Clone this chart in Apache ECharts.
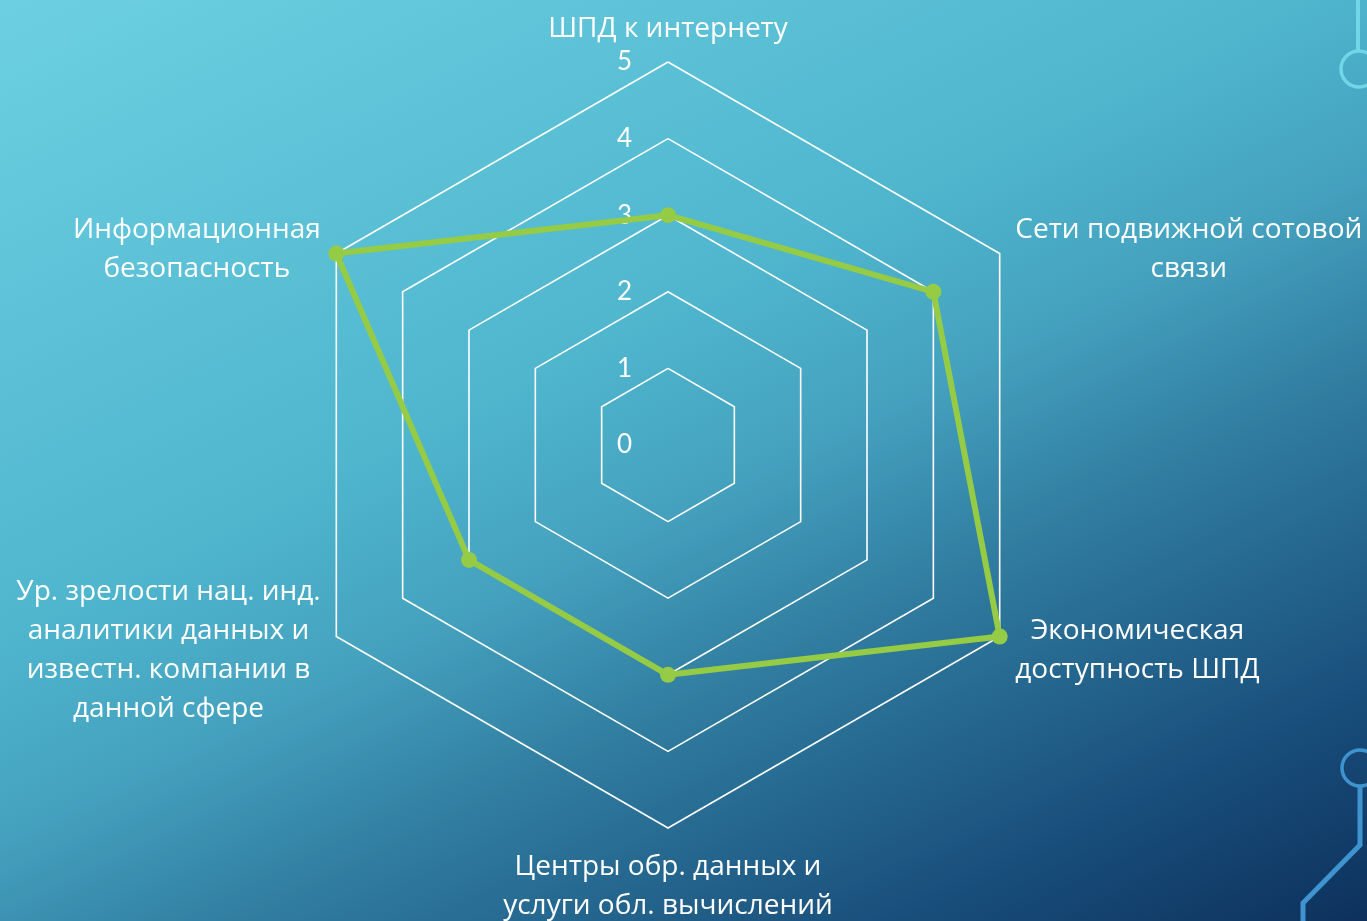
<!DOCTYPE html>
<html>
<head>
<meta charset="utf-8">
<script src="https://cdn.jsdelivr.net/npm/echarts@6/dist/echarts.min.js"></script>
<style>
  html, body { margin: 0; padding: 0; overflow: hidden; background: #0b2a55; }
  #chart { width: 1367px; height: 921px; }
</style>
</head>
<body>
<div id="chart"></div>
<script>
// Indicators in drawing order (counter-clockwise starting from the top)
const indicatorNames = [
  'ШПД к интернету',
  'Информационная\nбезопасность',
  'Ур. зрелости нац. инд.\nаналитики данных и\nизвестн. компании в\nданной сфере',
  'Центры обр. данных и\nуслуги обл. вычислений',
  'Экономическая\nдоступность ШПД',
  'Сети подвижной сотовой\nсвязи'
];
const scores = [3, 5, 3, 3, 5, 4];
const scaleMax = 5;
const tickLabels = ['0', '1', '2', '3', '4', '5'];

const chart = echarts.init(document.getElementById('chart'));

const nameFont = '"Open Sans", "Noto Sans", sans-serif';

// name distance from the outer ring, per axis (top and bottom sit a bit differently)
const nameGaps = [13, 18, 18, 10, 18, 18];

const option = {
  animation: false,
  graphic: [
    {
      type: 'rect', z: -10, silent: true,
      shape: { x: 0, y: 0, width: 1367, height: 921 },
      style: {
        fill: {
          type: 'linear', global: true, x: 0, y: 0, x2: 657, y2: 1345,
          colorStops: [
            { offset: 0, color: '#6dd0e2' },
            { offset: 0.38, color: '#4fb6ce' },
            { offset: 0.5, color: '#45a2bf' },
            { offset: 0.62, color: '#317ea1' },
            { offset: 0.82, color: '#184d7a' },
            { offset: 1, color: '#0a2752' }
          ]
        }
      }
    },
    // circuit ornament, top right
    {
      type: 'polyline', silent: true,
      shape: { points: [[1358, 0], [1358, 50]] },
      style: { stroke: '#72d6e8', lineWidth: 4, fill: null }
    },
    {
      type: 'circle', silent: true,
      shape: { cx: 1359, cy: 69, r: 18 },
      style: { stroke: '#72d6e8', lineWidth: 3.5, fill: null }
    },
    // circuit ornament, bottom right
    {
      type: 'circle', silent: true,
      shape: { cx: 1360, cy: 768, r: 18 },
      style: { stroke: '#3f93cf', lineWidth: 3.5, fill: null }
    },
    {
      type: 'polyline', silent: true,
      shape: { points: [[1360, 786], [1360, 845], [1303, 903], [1303, 921]] },
      style: { stroke: '#3f93cf', lineWidth: 5, fill: null }
    }
  ],
  radar: {
    center: [668, 445],
    radius: 383,
    startAngle: 90,
    splitNumber: 5,
    shape: 'polygon',
    nameGap: 18,
    axisName: {
      color: '#ffffff',
      fontFamily: nameFont,
      fontSize: 28,
      lineHeight: 39,
      padding: [10, 0, 0, 0],
      formatter: function (name) {
        return name.split('\n').map(function (l) { return '{c|' + l + '}'; }).join('\n');
      },
      rich: {
        c: {
          align: 'center',
          color: '#ffffff',
          fontFamily: nameFont,
          fontSize: 28,
          lineHeight: 39
        }
      }
    },
    axisLine: { show: false },
    axisTick: { show: false },
    splitArea: { show: false },
    splitLine: { lineStyle: { color: '#ffffff', width: 1.6 } },
    axisLabel: { show: false },
    indicator: indicatorNames.map(function (n, i) {
      const ind = { name: n, min: 0, max: scaleMax, nameGap: nameGaps[i] };
      if (i === 0) {
        ind.axisLabel = {
          show: true,
          color: '#ffffff',
          fontFamily: 'Lato, "DejaVu Sans", sans-serif',
          fontWeight: 'normal',
          fontSize: 26,
          margin: 36,
          formatter: function (v) { return tickLabels[Math.round(v)]; }
        };
      }
      return ind;
    })
  },
  series: [
    {
      type: 'radar',
      symbol: 'circle',
      symbolSize: 16,
      lineStyle: { color: '#95cb45', width: 6 },
      itemStyle: { color: '#95cb45' },
      data: [{ value: scores, name: 'Оценка' }]
    }
  ]
};

chart.setOption(option);
</script>
</body>
</html>
